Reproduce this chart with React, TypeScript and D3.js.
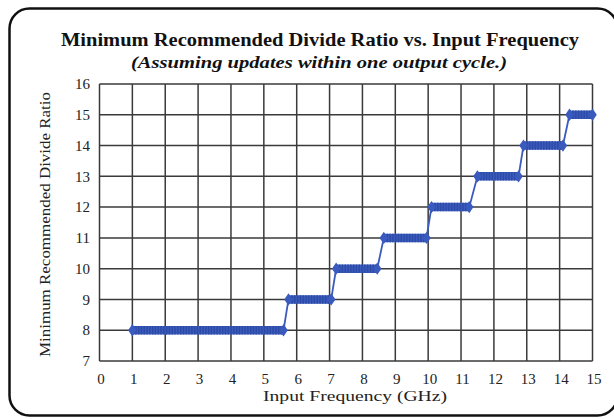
import * as d3 from "d3";

// Step segments: each divide ratio holds over [start, end] GHz
const stepStart = [1.0, 5.75, 7.2, 8.65, 10.1, 11.5, 12.9, 14.3];
const stepEnd = [5.6, 7.05, 8.45, 9.95, 11.25, 12.75, 14.1, 15.0];
const stepRatio = [8, 9, 10, 11, 12, 13, 14, 15];

const xTicks = d3.range(0, 16);
const yTicks = d3.range(7, 17);

const width = 614;
const height = 419;
const font = "'Liberation Serif', 'Times New Roman', serif";
const blue = "#3a5bbd";

export default function App() {
	const x = d3.scaleLinear().domain([0, 15]).range([99.5, 592.5]);
	const y = d3.scaleLinear().domain([7, 16]).range([361, 84]);

	const line = d3
		.line<[number, number]>()
		.x((d) => x(d[0]))
		.y((d) => y(d[1]));

	const connectors = stepRatio.slice(1).map((r, i) => [
		[stepEnd[i], stepRatio[i]],
		[stepStart[i + 1], r],
	] as [number, number][]);

	const segments = stepRatio.map((r, i) => [
		[stepStart[i], r],
		[stepEnd[i], r],
	] as [number, number][]);

	const diamond = d3.symbol(d3.symbolDiamond, 44)() ?? "";

	return (
		<svg
			width={width}
			height={height}
			style={{ position: "absolute", left: 0, top: 0, background: "#fff" }}
		>
			<rect
				x={9.5}
				y={8.5}
				width={608}
				height={407}
				rx={20}
				fill="#fff"
				stroke="#111"
				strokeWidth={2.5}
			/>
			<text
				x={320}
				y={46}
				textAnchor="middle"
				fontFamily={font}
				fontWeight="bold"
				fontSize={19}
				textLength={518}
				lengthAdjust="spacingAndGlyphs"
				fill="#111"
			>
				Minimum Recommended Divide Ratio vs. Input Frequency
			</text>
			<text
				x={319}
				y={68}
				textAnchor="middle"
				fontFamily={font}
				fontWeight="bold"
				fontStyle="italic"
				fontSize={17}
				textLength={376}
				lengthAdjust="spacingAndGlyphs"
				fill="#111"
			>
				(Assuming updates within one output cycle.)
			</text>

			<g stroke="#3a3a3a" strokeWidth={1.5}>
				{xTicks.map((t) => (
					<line key={`x${t}`} x1={x(t)} x2={x(t)} y1={y(7)} y2={y(16)} />
				))}
				{yTicks.map((t) => (
					<line key={`y${t}`} x1={x(0)} x2={x(15)} y1={y(t)} y2={y(t)} />
				))}
			</g>

			<g fontFamily={font} fontSize={15} fill="#222">
				{yTicks.map((t) => (
					<text key={`yl${t}`} x={90} y={y(t)} dy="0.35em" textAnchor="end">
						{t}
					</text>
				))}
				{xTicks.map((t) => (
					<text key={`xl${t}`} x={x(t) + 1.5} y={384} textAnchor="middle">
						{t}
					</text>
				))}
				<text
					x={355}
					y={401}
					textAnchor="middle"
					textLength={184}
					lengthAdjust="spacingAndGlyphs"
				>
					Input Frequency (GHz)
				</text>
				<text
					transform={`translate(50,${(y(7) + y(16)) / 2 + 2}) rotate(-90)`}
					textAnchor="middle"
					textLength={265}
					lengthAdjust="spacingAndGlyphs"
				>
					Minimum Recommended Divide Ratio
				</text>
			</g>

			<g fill="none" stroke={blue}>
				{connectors.map((c, i) => (
					<path key={`c${i}`} d={line(c) ?? ""} strokeWidth={1.8} />
				))}
				{segments.map((s, i) => (
					<g key={`s${i}`}>
						<path d={line(s) ?? ""} strokeWidth={8.5} />
						<path
							d={line(s) ?? ""}
							strokeWidth={8.5}
							stroke="#2d4aa6"
							strokeDasharray="1.4 1.4"
						/>
					</g>
				))}
			</g>
			<g fill={blue}>
				{segments.flatMap((s, i) =>
					s.map((p, j) => (
						<path
							key={`d${i}-${j}`}
							d={diamond}
							transform={`translate(${x(p[0])},${y(p[1])}) scale(1.2,1)`}
						/>
					))
				)}
			</g>
		</svg>
	);
}
